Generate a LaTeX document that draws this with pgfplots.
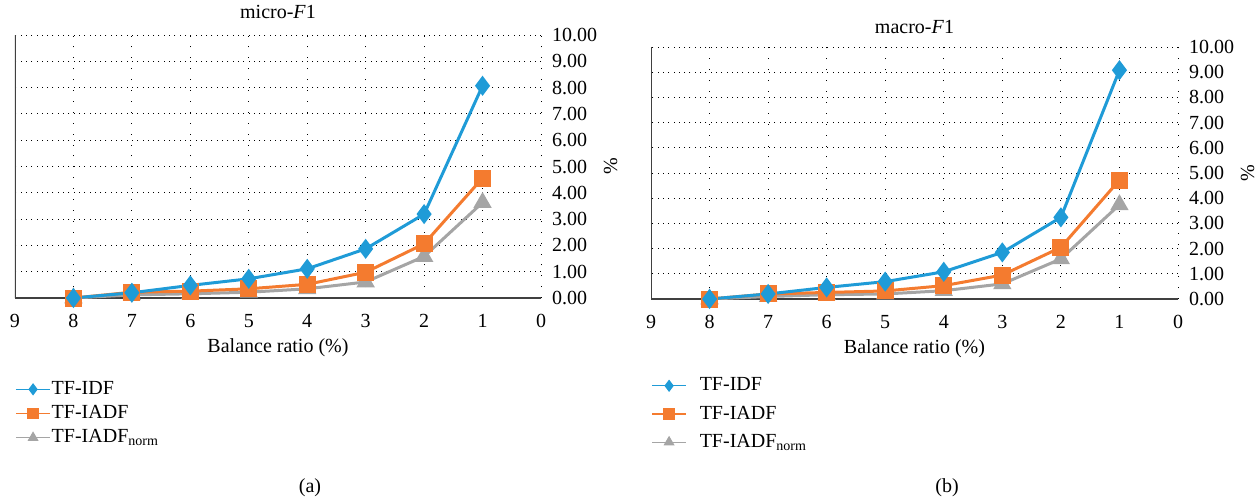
\documentclass[border=0pt]{standalone}
\usepackage{fontspec}
\setmainfont{Liberation Serif}
\usepackage{pgfplots}
\pgfplotsset{compat=1.18}
\definecolor{cblue}{HTML}{1F9BD7}
\definecolor{corange}{HTML}{F47B2F}
\definecolor{cgray}{HTML}{A5A5A5}
\definecolor{caxis}{HTML}{404040}

\pgfplotstableread{
x idf iadf norm
8 0.00 0.00 0.00
7 0.20 0.22 0.12
6 0.48 0.26 0.16
5 0.73 0.35 0.22
4 1.11 0.52 0.35
3 1.87 0.98 0.61
2 3.19 2.06 1.58
1 8.07 4.56 3.63
}\micro
\pgfplotstableread{
x idf iadf norm
8 0.00 0.00 0.00
7 0.20 0.20 0.10
6 0.46 0.26 0.17
5 0.69 0.32 0.20
4 1.08 0.53 0.33
3 1.85 0.95 0.60
2 3.24 2.05 1.59
1 9.08 4.72 3.74
}\macro

\pgfplotsset{myaxis/.style={
  scale only axis, x dir=reverse,
  xmin=0, xmax=9, ymin=0, ymax=10,
  xtick={0,...,9}, ytick={0,...,10},
  yticklabel pos=right,
  axis line style={draw=none},
  major tick length=0pt,
  grid=major,
  x grid style={black, line width=0.45pt, dash pattern=on 0.45pt off 5pt},
  y grid style={black, line width=0.45pt, dash pattern=on 0.45pt off 2.2pt},
  /pgf/number format/assume math mode=true,
  y tick label style={/pgf/number format/fixed, /pgf/number format/fixed zerofill, /pgf/number format/precision=2, xshift=2pt},
  x tick label style={yshift=-4.5pt},
  ylabel={\%},
  ylabel style={yshift=3.5pt},
  xlabel={Balance ratio (\%)},
  xlabel style={at={(axis description cs:0.5,0)}, anchor=center, yshift=-25pt},
  title style={at={(axis description cs:0.5,1)}, anchor=center},
  legend cell align=left,
  reverse legend,
  legend style={draw=none, fill=none, anchor=north west, inner sep=0pt},
  legend image code/.code={\draw[mark repeat=2, mark phase=2, #1, line width=0.6pt, mark size=2.6pt] plot coordinates {(0cm,0cm) (0.3cm,0cm) (0.6cm,0cm)};},
  every axis plot/.append style={line width=1.5pt},
}}

\begin{document}
\begin{tikzpicture}
\useasboundingbox (0,0) rectangle (628pt,250pt);
\begin{axis}[myaxis,
  at={(7.5pt,101pt)}, anchor=south west,
  width=263pt, height=131.5pt,
  title={micro-\textit{F}1},
  title style={yshift=5.5pt},
  legend style={at={(axis description cs:0,-0.30)}, /tikz/every odd column/.append style={column sep=-1.5pt}},
]
\draw[caxis, line width=0.8pt] (axis cs:9,0) -- (axis cs:0,0);
\draw[caxis, line width=0.8pt] (axis cs:9,0) -- (axis cs:9,10);
\addplot[cgray, mark=triangle*, mark size=3.8pt, mark options={fill=cgray}] table[x=x, y=norm] {\micro};
\addplot[corange, mark=square*, mark size=3.5pt, mark options={fill=corange}] table[x=x, y=iadf] {\micro};
\addplot[cblue, mark=diamond*, mark size=3.8pt, mark options={fill=cblue}] table[x=x, y=idf] {\micro};
\legend{TF-IADF\textsubscript{norm}, TF-IADF, TF-IDF}
\end{axis}

\begin{axis}[myaxis,
  at={(325.5pt,100.5pt)}, anchor=south west,
  width=263.5pt, height=126pt,
  title={macro-\textit{F}1},
  title style={yshift=4pt},
  legend style={at={(axis description cs:0,-0.295)}, /tikz/every odd column/.append style={column sep=4.5pt}, row sep=2pt},
]
\draw[caxis, line width=0.8pt] (axis cs:9,0) -- (axis cs:0,0);
\draw[caxis, line width=0.8pt] (axis cs:9,0) -- (axis cs:9,10);
\addplot[cgray, mark=triangle*, mark size=3.8pt, mark options={fill=cgray}] table[x=x, y=norm] {\macro};
\addplot[corange, mark=square*, mark size=3.5pt, mark options={fill=corange}] table[x=x, y=iadf] {\macro};
\addplot[cblue, mark=diamond*, mark size=3.8pt, mark options={fill=cblue}] table[x=x, y=idf] {\macro};
\legend{TF-IADF\textsubscript{norm}, TF-IADF, TF-IDF}
\end{axis}

\node at (155pt,6pt) {(a)};
\node at (473.5pt,6pt) {(b)};
\end{tikzpicture}
\end{document}
